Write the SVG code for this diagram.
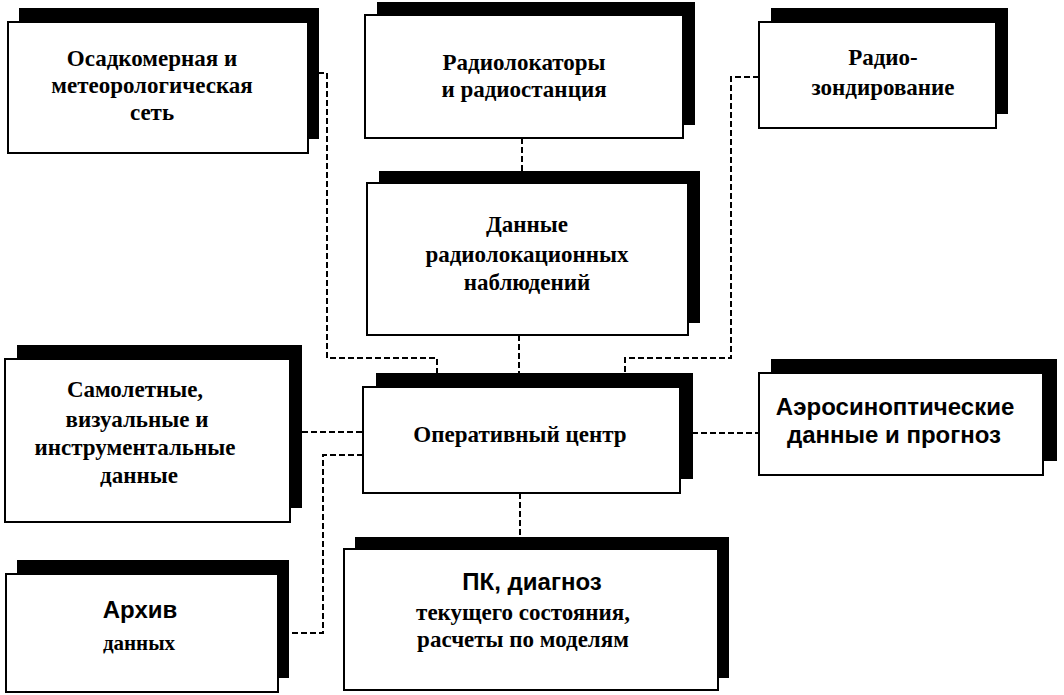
<svg xmlns="http://www.w3.org/2000/svg" width="1064" height="695" viewBox="0 0 1064 695">
<style>
.sh{fill:#000}
.bx{fill:#fff;stroke:#000;stroke-width:2}
.s{font-family:"Liberation Serif","Times New Roman",serif;font-weight:bold;font-size:23px;fill:#000;text-anchor:middle}
.a{font-family:"Liberation Sans",Arial,sans-serif;font-weight:bold;font-size:24px;fill:#000;text-anchor:middle}
.c{fill:none;stroke:#000;stroke-width:2;stroke-dasharray:6 3}
</style>
<rect width="1064" height="695" fill="#fff"/>
<g id="connectors">
<path class="c" d="M318,73 H327 V358 H437 V373"/>
<path class="c" d="M522,138 V172"/>
<path class="c" d="M519,335 V373"/>
<path class="c" d="M759,77 H731 V358 H625 V373"/>
<path class="c" d="M302,432 H363"/>
<path class="c" d="M363,455 H323 V633 H288"/>
<path class="c" d="M692,433 H759"/>
<path class="c" d="M520,493 V537"/>
</g>
<g id="n1">
<rect class="sh" x="19" y="8" width="300" height="131"/>
<rect class="bx" x="8" y="22" width="300" height="131"/>
<text class="s" x="152" y="66">Осадкомерная и</text>
<text class="s" x="152" y="93">метеорологическая</text>
<text class="s" x="152" y="120">сеть</text>
</g>
<g id="n2">
<rect class="sh" x="377" y="2" width="318" height="123"/>
<rect class="bx" x="365" y="15" width="318" height="123"/>
<text class="s" x="524" y="70">Радиолокаторы</text>
<text class="s" x="524" y="97">и радиостанция</text>
</g>
<g id="n3">
<rect class="sh" x="379" y="171" width="321" height="152"/>
<rect class="bx" x="367" y="183" width="321" height="152"/>
<text class="s" x="527" y="232">Данные</text>
<text class="s" x="527" y="262">радиолокационных</text>
<text class="s" x="527" y="290">наблюдений</text>
</g>
<g id="n4">
<rect class="sh" x="771" y="8" width="237" height="106"/>
<rect class="bx" x="759" y="22" width="237" height="106"/>
<text class="s" x="883" y="65">Радио-</text>
<text class="s" x="883" y="95">зондирование</text>
</g>
<g id="n5">
<rect class="sh" x="17" y="345" width="285" height="163"/>
<rect class="bx" x="5" y="359" width="285" height="163"/>
<text class="s" x="135" y="397">Самолетные,</text>
<text class="s" x="137" y="427">визуальные и</text>
<text class="s" x="135" y="455">инструментальные</text>
<text class="s" x="139" y="483">данные</text>
</g>
<g id="n6">
<rect class="sh" x="376" y="373" width="317" height="106"/>
<rect class="bx" x="363" y="387" width="317" height="106"/>
<text class="s" x="520" y="442">Оперативный центр</text>
</g>
<g id="n7">
<rect class="sh" x="771" y="359" width="286" height="102"/>
<rect class="bx" x="759" y="373" width="284" height="102"/>
<text class="a" x="895" y="415">Аэросиноптические</text>
<text class="a" x="894" y="443">данные и прогноз</text>
</g>
<g id="n8">
<rect class="sh" x="17" y="560" width="272" height="118"/>
<rect class="bx" x="6" y="574" width="272" height="118"/>
<text class="a" x="140" y="618">Архив</text>
<text class="s" x="139" y="650" style="font-size:21px">данных</text>
</g>
<g id="n9">
<rect class="sh" x="355" y="537" width="374" height="141"/>
<rect class="bx" x="344" y="549" width="374" height="141"/>
<text class="a" x="532" y="590">ПК, диагноз</text>
<text class="s" x="523" y="620">текущего состояния,</text>
<text class="s" x="523" y="647">расчеты по моделям</text>
</g>
</svg>
